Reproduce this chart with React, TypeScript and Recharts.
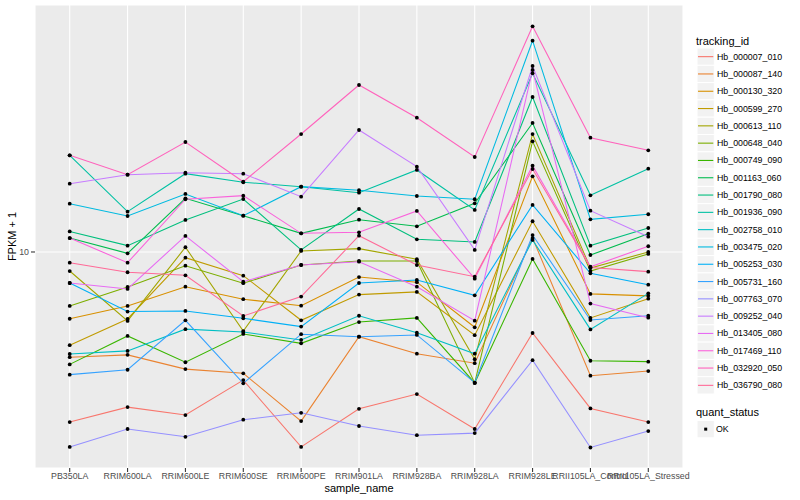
import React from 'react';
import { LineChart, Line, XAxis, YAxis, CartesianGrid } from 'recharts';

const categories = [
  'PB350LA', 'RRIM600LA', 'RRIM600LE', 'RRIM600SE', 'RRIM600PE', 'RRIM901LA',
  'RRIM928BA', 'RRIM928LA', 'RRIM928LE', 'RRII105LA_Control', 'RRII105LA_Stressed',
];

const trackingIds = [
  'Hb_000007_010', 'Hb_000087_140', 'Hb_000130_320', 'Hb_000599_270', 'Hb_000613_110',
  'Hb_000648_040', 'Hb_000749_090', 'Hb_001163_060', 'Hb_001790_080', 'Hb_001936_090',
  'Hb_002758_010', 'Hb_003475_020', 'Hb_005253_030', 'Hb_005731_160', 'Hb_007763_070',
  'Hb_009252_040', 'Hb_013405_080', 'Hb_017469_110', 'Hb_032920_050', 'Hb_036790_080',
];

const hb_000007_010 = [2.71, 3.04, 2.86, 3.74, 2.24, 3.0, 3.36, 2.57, 5.37, 3.01, 2.71];
const hb_000087_140 = [4.46, 4.54, 4.07, 3.94, 2.73, 5.22, 4.58, 4.26, 11.13, 3.87, 4.01];
const hb_000130_320 = [5.99, 6.61, 7.66, 6.96, 6.62, 8.25, 7.93, 5.61, 17.88, 7.25, 7.14];
const hb_000599_270 = [4.89, 5.98, 9.57, 8.34, 5.92, 7.21, 7.36, 5.28, 12.66, 6.03, 6.99];
const hb_000613_110 = [8.64, 5.89, 10.37, 5.45, 10.08, 10.26, 9.46, 4.39, 24.73, 8.84, 10.0];
const hb_000648_040 = [6.61, 7.65, 9.0, 7.87, 9.05, 9.33, 9.33, 3.66, 23.39, 8.64, 9.85];
const hb_000749_090 = [4.22, 5.25, 4.29, 5.33, 4.96, 5.84, 6.03, 3.66, 9.48, 4.34, 4.31];
const hb_001163_060 = [11.13, 9.9, 15.1, 13.21, 11.54, 12.81, 12.18, 14.53, 26.92, 9.77, 11.51];
const hb_001790_080 = [11.71, 10.5, 12.79, 15.02, 10.16, 13.91, 11.02, 10.8, 32.86, 10.5, 12.02];
const hb_001936_090 = [21.0, 13.63, 18.24, 17.08, 16.51, 15.76, 18.77, 13.81, 39.41, 15.45, 18.95];
const hb_002758_010 = [4.57, 4.68, 5.53, 5.41, 5.09, 6.13, 5.38, 4.58, 10.97, 5.52, 7.28];
const hb_003475_020 = [14.49, 13.18, 15.61, 13.21, 16.51, 16.06, 15.37, 14.99, 50.62, 12.85, 13.36];
const hb_005253_030 = [7.88, 6.33, 6.36, 6.01, 5.64, 7.88, 8.07, 7.17, 14.35, 8.49, 7.78];
const hb_005731_160 = [3.9, 4.05, 5.92, 3.65, 5.32, 5.22, 5.29, 3.67, 11.39, 5.93, 6.13];
const hb_007763_070 = [2.24, 2.57, 2.42, 2.76, 2.91, 2.63, 2.45, 2.49, 4.36, 2.23, 2.53];
const hb_009252_040 = [16.89, 18.1, 18.38, 18.24, 15.29, 25.51, 19.25, 10.16, 41.69, 13.73, 11.25];
const hb_013405_080 = [7.88, 7.53, 11.31, 7.96, 9.05, 9.28, 7.66, 5.9, 40.43, 6.73, 6.04];
const hb_017469_110 = [11.13, 9.21, 14.99, 15.41, 11.54, 11.63, 13.7, 8.15, 19.4, 8.93, 10.45];
const hb_032920_050 = [21.0, 18.1, 23.26, 17.15, 24.73, 36.03, 28.03, 20.73, 56.54, 24.04, 21.83];
const hb_036790_080 = [9.21, 8.56, 8.36, 6.12, 7.1, 11.33, 9.05, 8.27, 18.91, 8.88, 8.6];

const seriesValues = [
  hb_000007_010, hb_000087_140, hb_000130_320, hb_000599_270, hb_000613_110,
  hb_000648_040, hb_000749_090, hb_001163_060, hb_001790_080, hb_001936_090,
  hb_002758_010, hb_003475_020, hb_005253_030, hb_005731_160, hb_007763_070,
  hb_009252_040, hb_013405_080, hb_017469_110, hb_032920_050, hb_036790_080,
];

const yTicks = [10];
const yDomain = [1.905, 66.58];
const quantStatus = ['OK'];

// ggplot2 default hue palette: hcl(h, c = 100, l = 65)
function hcl(h: number, c = 100, l = 65): string {
  const hr = (h * Math.PI) / 180;
  const U = c * Math.cos(hr);
  const V = c * Math.sin(hr);
  const Xn = 95.047, Yn = 100, Zn = 108.883;
  const den = Xn + 15 * Yn + 3 * Zn;
  const un = (4 * Xn) / den;
  const vn = (9 * Yn) / den;
  const Y = l > 8 ? Yn * Math.pow((l + 16) / 116, 3) : (Yn * l) / 903.3;
  const u = U / (13 * l) + un;
  const v = V / (13 * l) + vn;
  const X = (9 * Y * u) / (4 * v);
  const Z = -X / 3 - 5 * Y + (3 * Y) / v;
  const x = X / 100, y = Y / 100, z = Z / 100;
  const lin = [
    3.240479 * x - 1.53715 * y - 0.498535 * z,
    -0.969256 * x + 1.875992 * y + 0.041556 * z,
    0.055648 * x - 0.204043 * y + 1.057311 * z,
  ];
  const g = (t: number) => {
    const s = t <= 0.0031308 ? 12.92 * t : 1.055 * Math.pow(t, 1 / 2.4) - 0.055;
    return Math.round(Math.max(0, Math.min(1, s)) * 255);
  };
  return '#' + lin.map(g).map((n) => n.toString(16).padStart(2, '0')).join('');
}

const colors = trackingIds.map((_, i) => hcl(15 + (360 / trackingIds.length) * i));

const data = categories.map((name, i) => {
  const row: Record<string, number | string> = { idx: i, name };
  trackingIds.forEach((id, j) => {
    row[id] = seriesValues[j][i];
  });
  return row;
});

const FONT = '"Liberation Sans", Arial, Helvetica, sans-serif';

function Legend() {
  const top = 48;
  const step = 17.3;
  return (
    <svg width={112} height={500} style={{ position: 'absolute', left: 688, top: 0 }}>
      <g fontFamily={FONT}>
        <text x={8} y={40.5} fontSize={11} fill="#000" dominantBaseline="central">
          tracking_id
        </text>
        {trackingIds.map((id, i) => {
          const y0 = top + i * step;
          const cy = y0 + step / 2;
          return (
            <g key={id}>
              <rect x={9} y={y0} width={17.3} height={step} fill="#F2F2F2" stroke="#FFFFFF" strokeWidth={1} />
              <line x1={10} x2={25.3} y1={cy} y2={cy} stroke={colors[i]} strokeWidth={1.1} />
              <text x={29} y={cy} fontSize={8.8} fill="#000" dominantBaseline="central">
                {id}
              </text>
            </g>
          );
        })}
        <text x={8} y={412} fontSize={11} fill="#000" dominantBaseline="central">
          quant_status
        </text>
        {quantStatus.map((s, i) => {
          const y0 = 420.5 + i * step;
          const cy = y0 + step / 2;
          return (
            <g key={s}>
              <rect x={9} y={y0} width={17.3} height={step} fill="#F2F2F2" stroke="#FFFFFF" strokeWidth={1} />
              <rect x={16.2} y={cy - 1.5} width={3} height={3} fill="#000" />
              <text x={28} y={cy} fontSize={8.8} fill="#000" dominantBaseline="central">
                {s}
              </text>
            </g>
          );
        })}
      </g>
    </svg>
  );
}

export default function App() {
  return (
    <div style={{ position: 'absolute', left: 0, top: 0, width: 800, height: 500, background: '#FFFFFF', fontFamily: FONT }}>
      <LineChart width={800} height={500} data={data} margin={{ top: 5, right: 117, bottom: 0, left: 0 }}>
        <CartesianGrid fill="#EBEBEB" stroke="#FFFFFF" strokeWidth={1.07} />
        <XAxis
          dataKey="idx"
          type="number"
          domain={[-0.6, categories.length - 1 + 0.6]}
          ticks={categories.map((_, i) => i)}
          tickFormatter={(v: number) => categories[v]}
          interval={0}
          allowDataOverflow
          height={32}
          axisLine={false}
          tickSize={4}
          tickMargin={1}
          tickLine={{ stroke: '#333333', strokeWidth: 1.07 }}
          tick={{ fontSize: 8.8, fill: '#4D4D4D', fontFamily: FONT }}
          label={{
            content: (props: any) => {
              const vb = props.viewBox || { x: 35, y: 468, width: 648, height: 32 };
              return (
                <text x={vb.x + vb.width / 2} y={vb.y + 20} textAnchor="middle" dominantBaseline="central" fontSize={11} fill="#000" fontFamily={FONT}>
                  sample_name
                </text>
              );
            },
          }}
        />
        <YAxis
          type="number"
          scale="log"
          domain={yDomain}
          ticks={yTicks}
          allowDataOverflow
          width={35}
          axisLine={false}
          tickSize={4}
          tickMargin={2}
          tickLine={{ stroke: '#333333', strokeWidth: 1.07 }}
          tick={{ fontSize: 8.8, fill: '#4D4D4D', fontFamily: FONT }}
          label={{
            content: (props: any) => {
              const vb = props.viewBox || { x: 0, y: 5, width: 35, height: 463 };
              const cx = vb.x + 12;
              const cy = vb.y + vb.height / 2;
              return (
                <text x={cx} y={cy} transform={`rotate(-90 ${cx} ${cy})`} textAnchor="middle" dominantBaseline="central" fontSize={11} fill="#000" fontFamily={FONT}>
                  FPKM + 1
                </text>
              );
            },
          }}
        />
        {trackingIds.map((id, i) => (
          <Line
            key={'line-' + id}
            dataKey={id}
            type="linear"
            stroke={colors[i]}
            strokeWidth={1.07}
            dot={false}
            activeDot={false}
            isAnimationActive={false}
          />
        ))}
        {trackingIds.map((id) => (
          <Line
            key={'pts-' + id}
            dataKey={id}
            type="linear"
            stroke="none"
            dot={{ r: 1.9, fill: '#000000', stroke: 'none' }}
            activeDot={false}
            isAnimationActive={false}
          />
        ))}
      </LineChart>
      <Legend />
    </div>
  );
}
